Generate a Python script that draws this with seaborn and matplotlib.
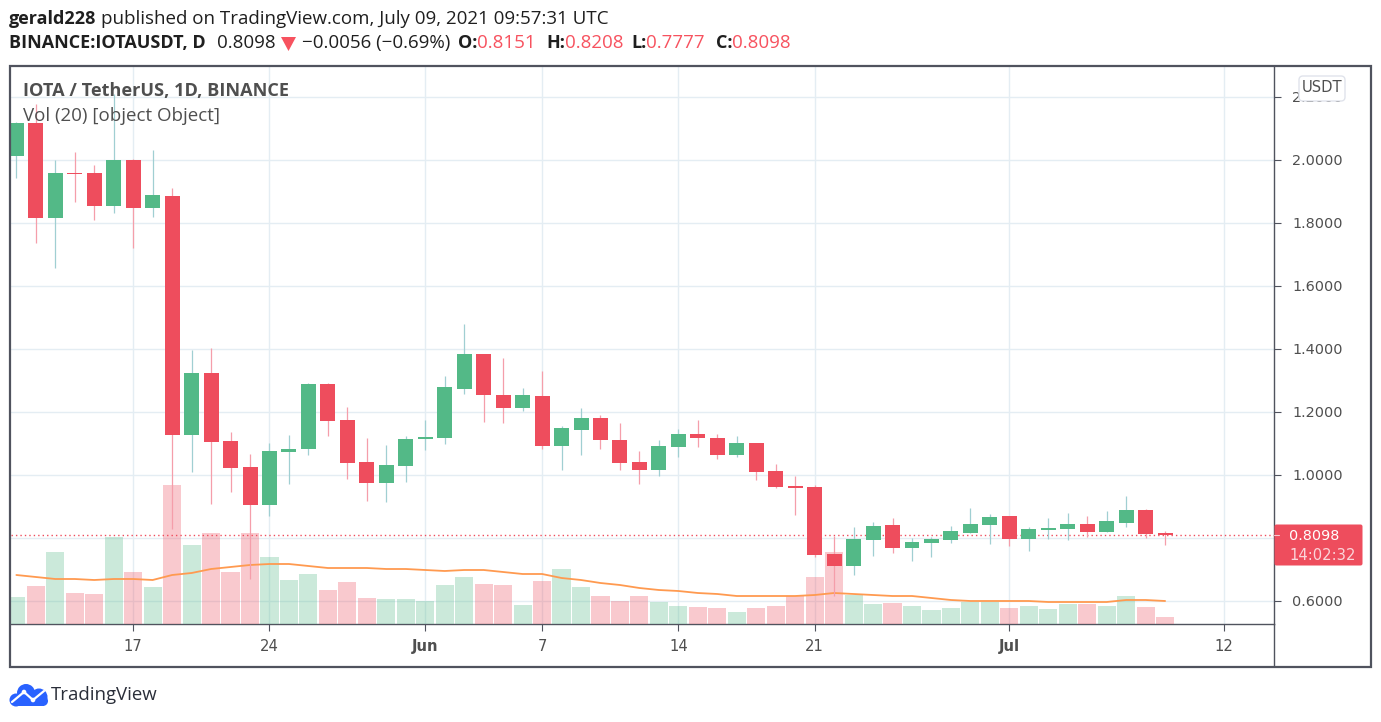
import matplotlib
matplotlib.use("Agg")
import matplotlib.pyplot as plt
import matplotlib.dates as mdates
from matplotlib.patches import Circle, FancyBboxPatch, Rectangle, Polygon
import numpy as np
import pandas as pd
import seaborn as sns

opens = [2.013,2.118,1.816,1.959,1.959,1.854,2.000,1.848,1.886,1.127,1.324,1.108,1.025,0.905,1.073,1.083,
         1.289,1.175,1.041,0.975,1.029,1.114,1.118,1.273,1.384,1.254,1.213,1.251,1.092,1.143,1.181,1.111,
         1.041,1.016,1.089,1.130,1.118,1.064,1.102,1.013,0.965,0.962,0.749,0.711,0.794,0.841,0.768,0.784,
         0.794,0.816,0.841,0.870,0.797,0.825,0.829,0.844,0.819,0.848,0.889,0.8151]
closes = [2.118,1.816,1.959,1.956,1.854,2.000,1.848,1.889,1.127,1.324,1.105,1.022,0.905,1.076,1.083,1.289,
          1.171,1.038,0.975,1.032,1.114,1.121,1.279,1.384,1.254,1.213,1.254,1.092,1.149,1.181,1.111,1.038,
          1.016,1.092,1.130,1.118,1.064,1.102,1.010,0.962,0.959,0.746,0.711,0.797,0.838,0.768,0.787,0.797,
          0.822,0.844,0.867,0.797,0.829,0.832,0.844,0.819,0.854,0.889,0.813,0.8098]
highs = [2.121,2.178,2.000,2.025,1.984,2.210,2.002,2.032,1.911,1.397,1.403,1.137,1.067,1.102,1.127,1.292,
         1.292,1.216,1.118,1.095,1.124,1.175,1.314,1.479,1.384,1.371,1.276,1.330,1.156,1.213,1.191,1.165,
         1.076,1.111,1.146,1.175,1.130,1.124,1.102,1.035,0.997,0.968,0.806,0.835,0.851,0.864,0.800,0.803,
         0.838,0.895,0.876,0.870,0.835,0.864,0.879,0.870,0.886,0.933,0.892,0.8208]
lows = [1.943,1.737,1.657,1.867,1.810,1.832,1.721,1.819,0.829,1.010,0.908,0.946,0.670,0.870,0.971,1.064,
        1.124,0.987,0.918,0.914,0.978,1.079,1.098,1.257,1.168,1.165,1.203,1.083,1.016,1.064,1.083,1.016,
        0.971,0.997,1.057,1.089,1.051,1.057,0.984,0.959,0.873,0.740,0.616,0.683,0.743,0.752,0.727,0.740,
        0.784,0.816,0.781,0.775,0.759,0.797,0.794,0.803,0.819,0.835,0.800,0.7777]
volumes = [27,38,72,31,30,87,52,37,139,79,91,52,91,67,44,50,34,42,26,25,25,23,39,47,40,39,19,43,55,37,28,23,
           28,22,18,17,16,12,16,18,28,47,72,29,20,21,18,14,16,22,22,16,18,15,20,20,18,28,17,7]
vol_ma = [49,47,45,45,44,45,45,44,49,51,55,57,59,60,60,58,56,56,56,55,55,54,53,54,54,52,50,50,46,44,41,39,
          36,34,33,31,30,28,28,28,28,29,31,30,29,28,28,26,24,23,23,23,23,22,22,22,22,24,24,23]
price_ticks = [0.6,0.8,1.0,1.2,1.4,1.6,1.8,2.0,2.2]
price_labels = ["0.6000","","1.0000","1.2000","1.4000","1.6000","1.8000","2.0000","2.2000"]
time_ticks = ["2021-05-17","2021-05-24","2021-06-01","2021-06-07","2021-06-14","2021-06-21","2021-07-01","2021-07-12"]
time_labels = ["17","24","Jun","7","14","21","Jul","12"]

W, H = 1381, 722
RED, GREEN = "#ee4d5d", "#53b987"
RED_W, GREEN_W = "#f59eaa", "#a0cfd2"
GRID = "#e4edf3"
DARK = "#50535e"
TXT = "#4f4f4f"
INK = "#1f1f1f"
TAGRED = "#f7525f"
BODY_FONT = ["Open Sans", "DejaVu Sans"]

sns.set_theme(style="white")
plt.rcParams["font.family"] = ["DejaVu Sans"]

dates = pd.date_range("2021-05-11", periods=len(opens), freq="D")
df = pd.DataFrame({"x": mdates.date2num(dates), "o": opens, "h": highs, "l": lows, "c": closes,
                   "vol": volumes, "ma": vol_ma})
df["dir"] = np.where(df.c >= df.o, "up", "down")

fig = plt.figure(figsize=(W / 100, H / 100), dpi=100, facecolor="white")
L, R, T, B = 11, 1274, 66, 624
rect = [L / W, 1 - B / H, (R - L) / W, (B - T) / H]
x0 = mdates.date2num(pd.Timestamp("2021-05-17"))
xlim = (x0 + (L - 133.2) / 19.47, x0 + (R - 133.2) / 19.47)
ylim = (2.5079 - B / 315, 2.5079 - T / 315)

# base axes: grid and tick labels
ax = fig.add_axes(rect, zorder=1)
ax.set_xlim(xlim); ax.set_ylim(ylim)
tick_x = mdates.date2num(pd.to_datetime(time_ticks))
ax.set_xticks(tick_x)
ax.set_xticklabels(time_labels, fontsize=10.6, color=TXT)
for lab, t in zip(ax.get_xticklabels(), time_labels):
    if t in ("Jun", "Jul"):
        lab.set_fontweight("bold")
ax.yaxis.tick_right()
ax.set_yticks(price_ticks)
ax.set_yticklabels(price_labels, fontsize=10.4, color=TXT)
ax.grid(True, color=GRID, lw=1.0)
ax.set_axisbelow(True)
ax.tick_params(axis="both", length=5, width=0.8, color=DARK, bottom=True, right=True)
ax.tick_params(axis="y", pad=8)
ax.tick_params(axis="x", pad=6)
for s in ("top", "left"):
    ax.spines[s].set_visible(False)
for s in ("bottom", "right"):
    ax.spines[s].set_color(DARK); ax.spines[s].set_linewidth(1.0)

# volume pane
axv = fig.add_axes(rect, zorder=2, sharex=ax)
axv.patch.set_alpha(0)
sns.barplot(data=df, x="x", y="vol", hue="dir", palette={"up": GREEN, "down": RED}, native_scale=True,
            dodge=False, width=0.93, alpha=0.3, saturation=1, legend=False, ax=axv, errorbar=None, linewidth=0)
sns.lineplot(data=df, x="x", y="ma", color="#ff9a50", lw=1.3, ax=axv, legend=False, errorbar=None)
axv.set_ylim(0, B - T)
axv.set_xlim(xlim)
axv.axis("off")

# candles
axc = fig.add_axes(rect, zorder=3, sharex=ax, sharey=ax)
axc.patch.set_alpha(0)
is_up = df.dir == "up"
axc.vlines(df.x, df.l, df.h, colors=[GREEN_W if u else RED_W for u in is_up], lw=0.9, zorder=2)
axc.bar(df.x, (df.c - df.o).abs().clip(lower=0.0035), width=0.77, bottom=df[["o", "c"]].min(axis=1),
        color=[GREEN if u else RED for u in is_up], linewidth=0, zorder=3)
axc.axhline(closes[-1], color=RED, lw=1.0, ls=(0, (1, 2.2)), zorder=1)
axc.set_xlim(xlim); axc.set_ylim(ylim)
axc.axis("off")

# overlay in pixel coordinates
ov = fig.add_axes([0, 0, 1, 1], zorder=5)
ov.set_xlim(0, W); ov.set_ylim(H, 0); ov.axis("off"); ov.patch.set_alpha(0)

ov.add_patch(Rectangle((10.5, 65.5), 1360.5, 601, fill=False, ec=DARK, lw=1.6))
ov.plot([R, R], [B, 666], color=DARK, lw=1.0)

# header: runs of text placed one after another
SIZES = {"bold": 13.0, "normal": 13.5}
def run(x, y, parts):
    r = fig.canvas.get_renderer()
    for s, w, c in parts:
        t = ov.text(x, y, s, fontweight=w, family=BODY_FONT, va="center", color=c, fontsize=SIZES[w])
        x = t.get_window_extent(r).x1
    return x
run(9, 19, [("gerald228", "bold", INK)])
run(101, 19, [("published on TradingView.com, July 09, 2021 09:57:31 UTC", "normal", INK)])
run(9, 43, [("BINANCE:IOTAUSDT, D", "bold", INK)])
run(217, 43, [("0.8098", "normal", INK)])
ov.add_patch(Polygon([(281, 37), (296, 37), (288.5, 51)], color=TAGRED, lw=0))
run(302, 43, [("\u22120.0056 (\u22120.69%)", "normal", INK)])
run(458, 43, [("O:", "bold", INK), ("0.8151", "normal", TAGRED)])
run(546, 43, [("H:", "bold", INK), ("0.8208", "normal", TAGRED)])
run(631, 43, [("L:", "bold", INK), ("0.7777", "normal", TAGRED)])
run(716, 43, [("C:", "bold", INK), ("0.8098", "normal", TAGRED)])

ov.text(23, 91, "IOTA / TetherUS, 1D, BINANCE", family=BODY_FONT, fontweight="bold", fontsize=13.1, color=TXT, va="center")
ov.text(23, 116, "Vol (20) [object Object]", family=BODY_FONT, fontsize=13.5, color=TXT, va="center")

# USDT unit box
ov.add_patch(FancyBboxPatch((1302, 79), 40, 19, boxstyle="round,pad=3,rounding_size=4", fc="white", ec="#e0e3eb", lw=1.0))
ov.text(1322, 88, "USDT", fontsize=10.6, color=TXT, ha="center", va="center")

# last price tag
ov.add_patch(FancyBboxPatch((1275, 525), 87, 40, boxstyle="round,pad=0.5,rounding_size=2", fc=RED, ec=RED, lw=0))
ov.plot([1274, 1279], [535, 535], color="#f9c6cf", lw=0.8)
ov.text(1314, 536, "0.8098", fontsize=10.4, color="white", ha="center", va="center", family="DejaVu Sans")
ov.text(1322.5, 555, "14:02:32", fontsize=10.6, color="#fbd5da", ha="center", va="center")

# TradingView logo + word
blue = "#2962ff"
for cx, cy, r in [(16, 700, 6.5), (26, 693, 9), (39, 697, 8.5), (43, 701, 5)]:
    ov.add_patch(Circle((cx, cy), r, color=blue, lw=0))
ov.add_patch(Rectangle((15, 698), 29, 8, color=blue, lw=0))
ov.plot([12, 24, 33, 44], [702, 692, 700, 691], color="white", lw=1.6, solid_capstyle="round")
ov.add_patch(Circle((24, 692), 2.3, color="white", lw=0))
ov.add_patch(Circle((33, 700), 2.3, color="white", lw=0))
ov.text(51, 695, "TradingView", family=BODY_FONT, fontsize=13.4, color="#2a2e39", va="center")

fig.savefig("out.png", dpi=100, facecolor="white")
